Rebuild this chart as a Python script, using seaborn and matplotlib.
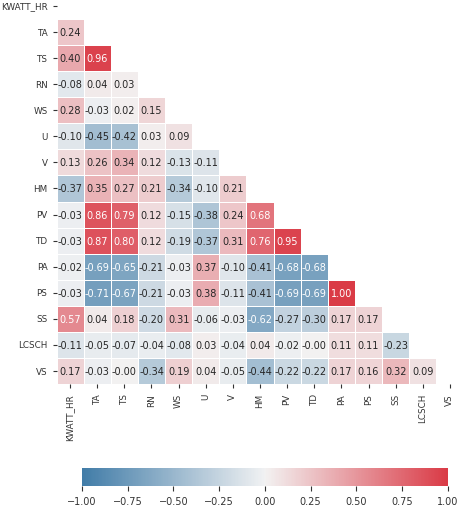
import numpy as np
import pandas as pd
import matplotlib
matplotlib.use("Agg")
import matplotlib.pyplot as plt
import seaborn as sns

# variables in the correlation matrix
cols = ['KWATT_HR', 'TA', 'TS', 'RN', 'WS', 'U', 'V', 'HM', 'PV', 'TD',
        'PA', 'PS', 'SS', 'LCSCH', 'VS']

# lower triangle (row i, columns 0..i-1)
lower = [
    [],
    [0.24],
    [0.40, 0.96],
    [-0.08, 0.04, 0.03],
    [0.28, -0.03, 0.02, 0.15],
    [-0.10, -0.45, -0.42, 0.03, 0.09],
    [0.13, 0.26, 0.34, 0.12, -0.13, -0.11],
    [-0.37, 0.35, 0.27, 0.21, -0.34, -0.10, 0.21],
    [-0.03, 0.86, 0.79, 0.12, -0.15, -0.38, 0.24, 0.68],
    [-0.03, 0.87, 0.80, 0.12, -0.19, -0.37, 0.31, 0.76, 0.95],
    [-0.02, -0.69, -0.65, -0.21, -0.03, 0.37, -0.10, -0.41, -0.68, -0.68],
    [-0.03, -0.71, -0.67, -0.21, -0.03, 0.38, -0.11, -0.41, -0.69, -0.69, 1.00],
    [0.57, 0.04, 0.18, -0.20, 0.31, -0.06, -0.03, -0.62, -0.27, -0.30, 0.17, 0.17],
    [-0.11, -0.05, -0.07, -0.04, -0.08, 0.03, -0.04, 0.04, -0.02, -0.00, 0.11, 0.11, -0.23],
    [0.17, -0.03, -0.00, -0.34, 0.19, 0.04, -0.05, -0.44, -0.22, -0.22, 0.17, 0.16, 0.32, 0.09],
]

n = len(cols)
mat = np.eye(n)
for i, row in enumerate(lower):
    for j, v in enumerate(row):
        mat[i, j] = v
        mat[j, i] = v
corr = pd.DataFrame(mat, index=cols, columns=cols)

mask = np.triu(np.ones_like(mat, dtype=bool))
cmap = sns.diverging_palette(240, 10, as_cmap=True)

plt.rcParams['font.family'] = ['DejaVu Sans']
fig = plt.figure(figsize=(4.71, 5.06), dpi=100)
ax = fig.add_axes([0.12, 0.239, 0.864, 0.773])
cax = fig.add_axes([0.174, 0.0375, 0.777, 0.0356])

sns.heatmap(corr, mask=mask, cmap=cmap, vmin=-1, vmax=1, center=0,
            annot=True, fmt='.2f', annot_kws={'size': 7},
            linewidths=0.5, linecolor='white',
            ax=ax, cbar_ax=cax, cbar_kws={'orientation': 'horizontal'})

ax.tick_params(labelsize=6.3, colors='#333333', length=3)
ax.set_xticklabels(cols, rotation=90)
ax.set_yticklabels(cols, rotation=0)
cax.tick_params(labelsize=7, colors='#333333')
cax.set_xticks([-1, -0.75, -0.5, -0.25, 0, 0.25, 0.5, 0.75, 1])

fig.savefig('out.png', dpi=100)
